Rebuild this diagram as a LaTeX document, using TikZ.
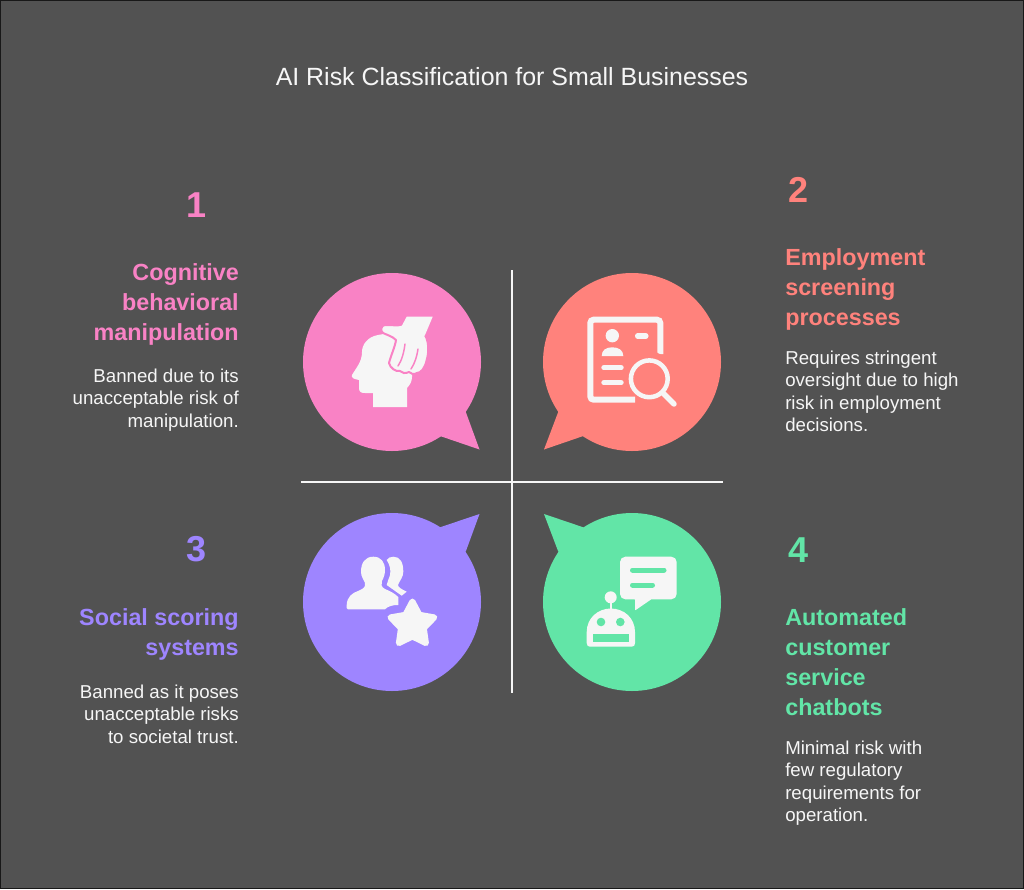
\documentclass[tikz,border=0pt]{standalone}
\usepackage{fontspec}
\setmainfont{Liberation Sans}
\newcommand{\sz}[2]{\fontsize{#1}{#2}\selectfont}
\definecolor{bgc}{HTML}{525252}
\definecolor{pinkc}{HTML}{F982C5}
\definecolor{redc}{HTML}{FF827C}
\definecolor{purc}{HTML}{9E85FF}
\definecolor{grnc}{HTML}{62E5A7}
\definecolor{icon}{HTML}{F6F6F6}
\tikzset{
 x=0.75pt,y=-0.75pt,
 ttl/.style={font=\sz{17.5}{22.5}\bfseries,align=left,inner sep=0,anchor=north west},
 ttr/.style={font=\sz{17.5}{22.5}\bfseries,align=right,inner sep=0,anchor=north east},
 dl/.style={font=\sz{14}{16.6},text=icon,align=left,inner sep=0,anchor=north west},
 dr/.style={font=\sz{14}{16.6},text=icon,align=right,inner sep=0,anchor=north east},
 num/.style={font=\sz{27}{27}\bfseries,inner sep=0},
 axis/.style={draw=icon,line width=1.6pt},
}
\begin{document}
\begin{tikzpicture}
\useasboundingbox (0,0) rectangle (1024,889);
\fill[bgc] (0,0) rectangle (1024,889);
\draw[black!70!bgc,line width=0.75pt] (0.5,0.5) rectangle (1023.5,888.5);
\node[font=\sz{18.7}{22},text=icon,inner sep=0] (title) at (512,77) {AI Risk Classification for Small Businesses};
% bubbles
\coordinate (c1) at (392,362); \coordinate (c2) at (632,362);
\coordinate (c3) at (392,602); \coordinate (c4) at (632,602);
\fill[pinkc] (c1) circle (89); \fill[pinkc] (465.7,411.7)--(479.5,449.5)--(440,436)--(420,420)--cycle;
\fill[redc] (c2) circle (89); \fill[redc] (558.3,411.7)--(544,449.5)--(583.3,436)--(600,420)--cycle;
\fill[purc] (c3) circle (89); \fill[purc] (465.7,551.7)--(479.5,514)--(440,527.3)--(420,545)--cycle;
\fill[grnc] (c4) circle (89); \fill[grnc] (558.3,551.7)--(544,514)--(583.3,527.3)--(600,545)--cycle;
% axes
\coordinate (vt) at (512,270); \coordinate (vb) at (512,693);
\coordinate (hl) at (301,482); \coordinate (hr) at (723,482);
\draw[axis] (vt)--(vb); \draw[axis] (hl)--(hr);
% icon 1: head and hand
\fill[icon] (378,335) .. controls (367,337) and (362,345) .. (362,352) .. controls (362,362) and (356,368) .. (352,375) .. controls (351,378) and (354,379) .. (359,380) -- (359,388) .. controls (359,392) and (361,393) .. (365,393) -- (373,393) -- (373,407) -- (407,407) -- (407,388) .. controls (410,385) and (412,381) .. (412,377) -- (412,340) -- (395,332) -- cycle;
\draw[pinkc,line width=1.5pt,fill=icon,line join=round] (406.7,316.7) -- (432.7,316.7) -- (425,335) .. controls (429,342) and (429,352) .. (426.7,360) .. controls (425,368) and (421,373) .. (417,373) .. controls (414,375) and (411,374) .. (409,372) .. controls (405,374) and (402,373) .. (400,371) .. controls (396,372) and (390,368) .. (389,363) .. controls (391,355) and (395,347) .. (396,340) .. controls (392,336) and (387,335) .. (383,333) .. controls (380,331) and (381,325) .. (385,325) -- (402,325.5) -- cycle;
\fill[icon] (406.7,316.7) -- (432.7,316.7) -- (425,335) -- (415,345) -- (395,328) -- (402,325.5) -- cycle;
\draw[pinkc,line width=1.1pt,line cap=round] (405,344) .. controls (404,352) and (402,360) .. (398,366);
\draw[pinkc,line width=1.1pt,line cap=round] (418,349) .. controls (417,356) and (415,363) .. (411,369);
% icon 2: document and magnifier
\draw[icon,line width=4.5pt,line cap=butt,rounded corners=2.5pt] (660.3,354) -- (660.3,319.7) -- (590.3,319.7) -- (590.3,399.7) -- (635,399.7);
\fill[redc] (664,356.5) -- (656,352) -- (656,358) -- cycle;
\fill[icon] (612.3,335.7) circle (6.7);
\fill[icon] (601.7,356) .. controls (601.7,350) and (606,347.3) .. (612.3,347.3) .. controls (618.5,347.3) and (623.3,350) .. (623.3,356) -- cycle;
\draw[icon,line width=3.8pt,line cap=round] (637.5,336) -- (646,336);
\draw[icon,line width=4.1pt,line cap=round] (604,367.7) -- (621,367.7);
\draw[icon,line width=4.1pt,line cap=round] (604,382.7) -- (621,382.7);
\draw[icon,line width=3.4pt] (649.3,378.8) circle (18.4);
\draw[icon,line width=4.1pt,line cap=round] (663.3,393.3) -- (674,404);
% icon 3: people and star
\fill[icon] (393.3,556.7) .. controls (390,556.7) and (388,558) .. (386.7,560) .. controls (390,565) and (391,570) .. (390,575) .. controls (389,579) and (387,582) .. (386.7,585) -- (401.7,595.7) -- (406.7,591.7) .. controls (401,589) and (398,587) .. (398,585) .. controls (400,580) and (403.3,577) .. (403.3,571.7) .. controls (403.3,562) and (400,556.7) .. (393.3,556.7) -- cycle;
\fill[icon] (373.3,556.7) .. controls (365,556.7) and (361,563) .. (361,571.7) .. controls (361,577) and (364,580) .. (365,583) .. controls (366,588) and (362,589) .. (358,591) .. controls (352,593) and (347,597) .. (346.7,605) -- (346.7,608) .. controls (346.7,609) and (347,609.3) .. (348,609.3) -- (385,609.3) .. controls (388,606) and (393,605) .. (398.3,605) -- (398.3,597) .. controls (394,593) and (390,591) .. (385,589) .. controls (381,587) and (381,584) .. (382,581) .. controls (384,577) and (385,574) .. (385,570) .. controls (385,562) and (381,556.7) .. (373.3,556.7) -- cycle;
\coordinate (st) at (412.4,624.5);
\path[fill=icon,draw=icon,line width=4.5pt,line join=round] (st)+(-90:23) -- +(-54:12) -- +(-18:23) -- +(18:12) -- +(54:23) -- +(90:12) -- +(126:23) -- +(162:12) -- +(198:23) -- +(234:12) -- cycle;
% icon 4: robot and chat
\fill[icon,rounded corners=4pt] (620,556.7) rectangle (676.7,599.3);
\fill[icon,rounded corners=0.5pt] (621,590) -- (622,598) -- (635,599) -- (635,610.5) -- (651.7,599) -- (640,590) -- cycle;
\draw[grnc,line width=3.75pt,line cap=round] (632.5,570) -- (664,570);
\draw[grnc,line width=3.75pt,line cap=round] (632.5,585) -- (652.5,585);
\fill[icon] (610.7,597.3) circle (6);
\draw[icon,line width=1.8pt] (610.7,600) -- (610.7,610);
\fill[icon] (586.7,632) .. controls (586.7,618) and (598,608.5) .. (610.8,608.5) .. controls (624,608.5) and (635,618) .. (635,632) -- (635,643) .. controls (635,645.5) and (634,646.7) .. (631.5,646.7) -- (590,646.7) .. controls (588,646.7) and (586.7,645.5) .. (586.7,643) -- cycle;
\fill[grnc] (601,622) circle (4.3); \fill[grnc] (620.3,622) circle (4.3);
\fill[grnc] (592.7,634) rectangle (629.3,641.7);
% text left
\node[num,text=pinkc] (n1) at (197,205) {1};
\node[ttr,text=pinkc] (t1) at (239,263) {Cognitive\\behavioral\\manipulation};
\node[dr] (d1) at (239,369) {Banned due to its\\unacceptable risk of\\manipulation.};
\node[num,text=purc] (n3) at (197,549) {3};
\node[ttr,text=purc] (t3) at (239,608) {Social scoring\\systems};
\node[dr] (d3) at (239,685) {Banned as it poses\\unacceptable risks\\to societal trust.};
% text right
\node[num,text=redc] (n2) at (798,190) {2};
\node[ttl,text=redc] (t2) at (785,248) {Employment\\screening\\processes};
\node[dl] (d2) at (785,351) {Requires stringent\\oversight due to high\\risk in employment\\decisions.};
\node[num,text=grnc] (n4) at (798,550) {4};
\node[ttl,text=grnc] (t4) at (785,608) {Automated\\customer\\service\\chatbots};
\node[dl] (d4) at (785,741) {Minimal risk with\\few regulatory\\requirements for\\operation.};
\end{tikzpicture}
\end{document}
